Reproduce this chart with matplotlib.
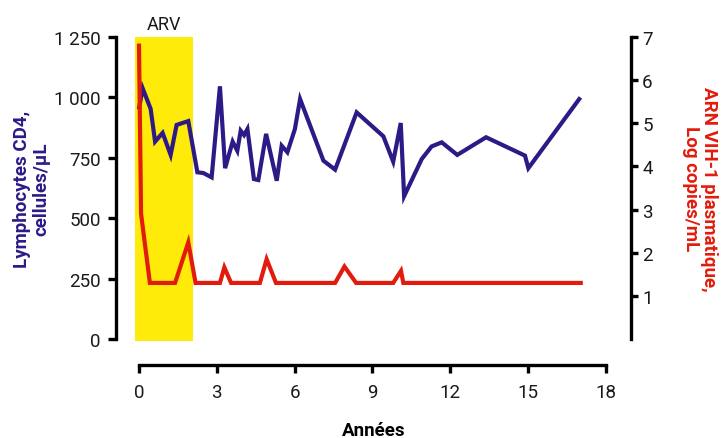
import matplotlib
matplotlib.use("Agg")
import matplotlib.pyplot as plt
from matplotlib.patches import Rectangle

plt.rcParams['font.family'] = ['Roboto', 'DejaVu Sans']

# CD4 lymphocyte counts (cells/uL) against years
cd4_years = [0.01, 0.14, 0.45, 0.62, 0.91, 1.22, 1.45, 1.90, 2.25, 2.48, 2.80,
             3.12, 3.32, 3.61, 3.79, 3.92, 4.05, 4.18, 4.43, 4.60, 4.90, 5.31,
             5.50, 5.72, 6.01, 6.21, 7.11, 7.56, 8.39, 9.42, 9.80, 10.09, 10.22,
             10.90, 11.28, 11.67, 12.27, 13.38, 14.88, 15.01, 16.97]
cd4_counts = [959, 1038, 952, 817, 853, 762, 886, 902, 690, 687, 669,
              1046, 707, 817, 779, 862, 844, 869, 662, 658, 849, 655,
              800, 773, 869, 993, 738, 701, 938, 839, 734, 894, 591,
              745, 797, 814, 762, 835, 759, 707, 993]

# plasma HIV-1 RNA (log copies/mL) against years
rna_years = [0.0, 0.08, 0.42, 1.39, 1.90, 2.18, 3.12, 3.29, 3.55, 4.66, 4.92,
             5.28, 7.56, 7.92, 8.37, 9.80, 10.10, 10.19, 17.03]
rna_log = [6.8, 2.9, 1.3, 1.3, 2.24, 1.3, 1.3, 1.66, 1.3, 1.3, 1.85,
           1.3, 1.3, 1.68, 1.3, 1.3, 1.58, 1.3, 1.3]

# treatment period (ARV)
arv_start, arv_end = -0.15, 2.08

left_ticks = [0, 250, 500, 750, 1000, 1250]
left_labels = ['0', '250', '500', '750', '1 000', '1 250']
right_ticks = [1, 2, 3, 4, 5, 6, 7]
x_ticks = [0, 3, 6, 9, 12, 15, 18]

blue = '#2e1a87'
red = '#e31b0c'
yellow = '#ffeb0a'
ink = '#1a1a1a'

fig = plt.figure(figsize=(7.22, 4.39), dpi=100)
ax = fig.add_axes([116 / 722, 1 - 340 / 439, 515 / 722, 302 / 439])
ax.set_xlim((116 - 139) / 25.94, (631 - 139) / 25.94)
ax.set_ylim(0, 1250)

ax.add_patch(Rectangle((arv_start, -8), arv_end - arv_start, 1258,
                       facecolor=yellow, edgecolor='none', clip_on=False, zorder=0))
ax.text((arv_start + arv_end) / 2, 1268, 'ARV', ha='center', va='bottom',
        fontsize=13, color=ink)

ax.plot(cd4_years, cd4_counts, color=blue, lw=3, solid_joinstyle='miter',
        clip_on=False, zorder=2)

for s in ['top', 'right']:
    ax.spines[s].set_visible(False)
ax.spines['left'].set_linewidth(2.4)
ax.spines['left'].set_bounds(0, 1250)
ax.spines['bottom'].set_linewidth(2.4)
ax.spines['bottom'].set_bounds(0, 18)
ax.spines['bottom'].set_position(('outward', 18.7))

ax.set_yticks(left_ticks)
ax.set_yticklabels(left_labels)
ax.set_xticks(x_ticks)
ax.tick_params(axis='y', length=6, width=2.4, pad=5, labelsize=13.5, labelcolor=ink)
ax.tick_params(axis='x', length=6, width=2.4, pad=7, labelsize=13.5, labelcolor=ink)

ax.set_ylabel('Lymphocytes CD4,\ncellules/µL', color=blue, fontsize=13.5,
              fontweight='bold', linespacing=1.05)
ax.yaxis.set_label_coords(-0.128, 0.5)
ax.set_xlabel('Années', fontsize=13.5, fontweight='bold')
ax.xaxis.set_label_coords(0.5, -0.27)

ax2 = ax.twinx()
ax2.set_ylim(0, 7)
ax2.plot(rna_years, rna_log, color=red, lw=3, solid_joinstyle='miter',
         clip_on=False, zorder=3)
for s in ['top', 'left', 'bottom']:
    ax2.spines[s].set_visible(False)
ax2.spines['right'].set_linewidth(2.4)
ax2.spines['right'].set_bounds(0, 7)
ax2.set_yticks(right_ticks)
ax2.tick_params(axis='y', length=5, width=2.4, pad=3, labelsize=13.5, labelcolor=ink)
ax2.set_ylabel('ARN VIH-1 plasmatique,\nLog copies/mL', color=red, fontsize=13.5,
               fontweight='bold', rotation=-90, linespacing=1.05, va='center')
ax2.yaxis.set_label_coords(1.134, 0.5)

fig.savefig('out.png', dpi=100)
